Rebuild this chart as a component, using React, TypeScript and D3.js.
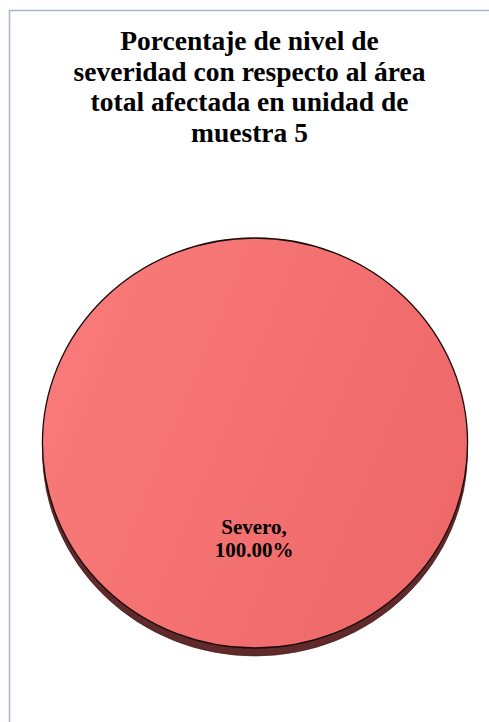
import React from "react";
import * as d3 from "d3";

const categories = ["Severo"];
const values = [100];
const titleLines = [
  "Porcentaje de nivel de",
  "severidad con respecto al área",
  "total afectada en unidad de",
  "muestra 5",
];

const SERIF = "Liberation Serif, Times New Roman, Tinos, serif";

export default function App() {
  const W = 489, H = 722;
  const cx = 255, cy = 443, rx = 212.5, ry = 205, depth = 8;
  const k = ry / rx;
  const pie = d3.pie<number>().sort(null).startAngle(0).endAngle(2 * Math.PI);
  const arcs = pie(values);
  const arc = d3.arc<d3.PieArcDatum<number>>().innerRadius(0).outerRadius(rx);
  const total = d3.sum(values);
  const fmt = d3.format(".2f");
  return (
    <svg width={W} height={H} style={{ position: "absolute", left: 0, top: 0 }}>
      <defs>
        <linearGradient id="topg" x1="0" y1="0.3" x2="1" y2="0.7">
          <stop offset="0" stopColor="#f97a7a" />
          <stop offset="1" stopColor="#ee6868" />
        </linearGradient>
      </defs>
      <rect x={0} y={0} width={W} height={H} fill="#fff" />
      <rect x={9.5} y={10.5} width={W + 20} height={H + 20} fill="none" stroke="#a9b6c9" strokeWidth={1.5} />
      <g style={{ fontFamily: SERIF, fontWeight: "bold" }} textAnchor="middle" fill="#000">
        {titleLines.map((t, i) => (
          <text key={i} x={249.5} y={50 + i * 30.5} style={{ fontSize: "27.5px" }}>{t}</text>
        ))}
      </g>
      {arcs.map((a, i) => (
        <g key={i}>
          <g transform={`translate(${cx},${cy + depth}) scale(1,${k})`}>
            <path d={arc(a) || ""} fill="#612a2a" stroke="#3a1515" strokeWidth={0.6} vectorEffect="non-scaling-stroke" />
          </g>
          <g transform={`translate(${cx},${cy}) scale(1,${k})`}>
            <path d={arc(a) || ""} fill="url(#topg)" stroke="#1a0a0a" strokeWidth={1.3} vectorEffect="non-scaling-stroke" />
          </g>
          <g style={{ fontFamily: SERIF, fontWeight: "bold", fontSize: "21px" }} textAnchor="middle">
            <text x={254} y={534}>{categories[i]},</text>
            <text x={254} y={557}>{fmt((values[i] / total) * 100)}%</text>
          </g>
        </g>
      ))}
    </svg>
  );
}
